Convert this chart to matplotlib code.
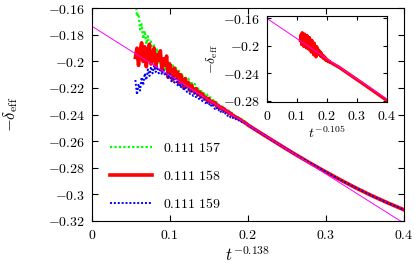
import numpy as np
import matplotlib.pyplot as plt
from matplotlib.ticker import FuncFormatter, MultipleLocator

plt.rcParams['mathtext.fontset'] = 'cm'
plt.rcParams['font.family'] = 'serif'
plt.rcParams['font.serif'] = ['DejaVu Serif']

# noisy early part, sampled every 0.002 in t^-0.138
x_noisy = list(np.round(np.linspace(0.056, 0.200, 73), 3))
green_noisy = [-0.152, -0.166, -0.164, -0.176, -0.172, -0.183, -0.177, -0.187, -0.181, -0.191,
               -0.185, -0.195, -0.188, -0.198, -0.191, -0.201, -0.194, -0.204, -0.197, -0.206,
               -0.199, -0.208, -0.201, -0.210, -0.203, -0.212, -0.205, -0.213, -0.207, -0.215,
               -0.209, -0.217, -0.211, -0.219, -0.213, -0.220, -0.215, -0.2220, -0.2170, -0.2235,
               -0.2190, -0.2250, -0.2210, -0.2265, -0.2230, -0.2280, -0.2250, -0.2295, -0.2270, -0.2310,
               -0.2290, -0.2325, -0.2305, -0.2340, -0.2325, -0.2355, -0.2340, -0.2370, -0.2358, -0.2385,
               -0.2372, -0.2400, -0.2388, -0.2413, -0.2403, -0.2428, -0.2420, -0.2440, -0.2434, -0.2455,
               -0.2450, -0.2468, -0.2476]
red_noisy = [-0.197, -0.190, -0.203, -0.192, -0.186, -0.200, -0.189, -0.204, -0.194, -0.187,
             -0.202, -0.196, -0.190, -0.205, -0.195, -0.199, -0.192, -0.207, -0.198, -0.203,
             -0.196, -0.212, -0.202, -0.207, -0.214, -0.205, -0.211, -0.208, -0.217, -0.210,
             -0.214, -0.219, -0.213, -0.219, -0.216, -0.222, -0.218, -0.221, -0.2235, -0.2205,
             -0.2250, -0.2230, -0.2265, -0.2245, -0.2275, -0.2270, -0.2295, -0.2280, -0.2305, -0.2300,
             -0.2320, -0.2310, -0.2335, -0.2330, -0.2350, -0.2345, -0.2365, -0.2358, -0.2378, -0.2375,
             -0.2392, -0.2390, -0.2405, -0.2408, -0.2420, -0.2423, -0.2433, -0.2436, -0.2447, -0.2452,
             -0.2461, -0.2467, -0.2478]
blue_noisy = [-0.214, -0.225, -0.217, -0.222, -0.212, -0.218, -0.209, -0.214, -0.206, -0.211,
              -0.204, -0.209, -0.203, -0.208, -0.204, -0.209, -0.205, -0.210, -0.206, -0.211,
              -0.208, -0.213, -0.209, -0.215, -0.211, -0.216, -0.213, -0.218, -0.215, -0.220,
              -0.217, -0.222, -0.219, -0.223, -0.221, -0.2245, -0.2225, -0.2260, -0.2240, -0.2275,
              -0.2255, -0.2290, -0.2270, -0.2300, -0.2285, -0.2315, -0.2300, -0.2330, -0.2315, -0.2345,
              -0.2330, -0.2358, -0.2345, -0.2372, -0.2360, -0.2385, -0.2375, -0.2398, -0.2390, -0.2410,
              -0.2403, -0.2422, -0.2416, -0.2433, -0.2428, -0.2444, -0.2440, -0.2455, -0.2452, -0.2465,
              -0.2463, -0.2474, -0.2478]

# smooth late part (all three coincide)
x_tail = [0.22, 0.24, 0.26, 0.28, 0.30, 0.32, 0.34, 0.36, 0.38, 0.40]
y_tail = [-0.2552, -0.2625, -0.2697, -0.2766, -0.2832, -0.2896, -0.2957, -0.3014, -0.3067, -0.3117]

fit_x = [0.0, 0.4]
fit_y = [-0.1734, -0.3218]

labels = ['0.111 157', '0.111 158', '0.111 159']

# inset
xi_noisy = list(np.round(np.linspace(0.112, 0.212, 51), 3))
yi_noisy = [-0.192, -0.184, -0.198, -0.181, -0.195, -0.186, -0.201, -0.183, -0.196, -0.188,
            -0.203, -0.185, -0.199, -0.191, -0.205, -0.188, -0.202, -0.194, -0.209, -0.192,
            -0.204, -0.197, -0.213, -0.196, -0.206, -0.201, -0.216, -0.201, -0.209, -0.205,
            -0.212, -0.207, -0.213, -0.209, -0.215, -0.211, -0.216, -0.214, -0.218, -0.215,
            -0.219, -0.217, -0.2205, -0.2190, -0.2215, -0.2205, -0.2225, -0.2218, -0.2233, -0.2230,
            -0.2240]
xi_tail = [0.24, 0.28, 0.32, 0.36, 0.40]
yi_tail = [-0.2310, -0.2430, -0.2550, -0.2672, -0.2795]
fiti_x = [0.0, 0.4]
fiti_y = [-0.160, -0.2776]


def fmt(v, pos):
    s = '%g' % round(v, 4)
    if s == '-0':
        s = '0'
    return '$' + s + '$'


def style(ax):
    ax.tick_params(direction='in', top=True, right=True, length=4, width=0.8,
                   labelsize=10, pad=5)
    for sp in ax.spines.values():
        sp.set_linewidth(0.8)
    ax.xaxis.set_major_formatter(FuncFormatter(fmt))
    ax.yaxis.set_major_formatter(FuncFormatter(fmt))


fig = plt.figure(figsize=(4.15, 2.68), dpi=100)
ax = fig.add_axes([0.221, 0.1765, 0.7518, 0.7925])

ax.plot(x_noisy + x_tail, green_noisy + y_tail, color='#00ff00', lw=1.6,
        ls=(0, (1, 1)), label=labels[0])
ax.plot(x_noisy + x_tail, red_noisy + y_tail, color='#ff0000', lw=2.6,
        label=labels[1])
ax.plot(x_noisy + x_tail, blue_noisy + y_tail, color='#0000ff', lw=1.4,
        ls=(0, (1, 1)), label=labels[2])
ax.plot(fit_x, fit_y, color='#ff00ff', lw=0.7)

ax.set_xlim(0, 0.4)
ax.set_ylim(-0.32, -0.16)
ax.xaxis.set_major_locator(MultipleLocator(0.1))
ax.yaxis.set_major_locator(MultipleLocator(0.02))
style(ax)
ax.set_xlabel(r'$t^{-0.138}$', fontsize=12, labelpad=3)
ax.set_ylabel(r'$-\delta_{\rm eff}$', fontsize=12, labelpad=20)

leg = ax.legend(loc='lower left', bbox_to_anchor=(0.02, -0.013), frameon=False,
                handlelength=3.0, handletextpad=0.75, labelspacing=1.0,
                prop={'size': 10, 'family': 'serif'})
for t in leg.get_texts():
    t.set_text('$' + t.get_text().replace(' ', r'\ ') + '$')

axi = fig.add_axes([0.6427, 0.6183, 0.2899, 0.322])
axi.plot(xi_noisy + xi_tail, yi_noisy + yi_tail, color='#ff0000', lw=2.4)
axi.plot(fiti_x, fiti_y, color='#ff00ff', lw=0.7)
axi.set_xlim(0, 0.4)
axi.set_ylim(-0.282, -0.1567)
axi.xaxis.set_major_locator(MultipleLocator(0.1))
axi.set_yticks([-0.16, -0.2, -0.24, -0.28])
style(axi)
axi.tick_params(length=3)
axi.set_xlabel(r'$t^{-0.105}$', fontsize=10, labelpad=1)
axi.set_ylabel(r'$-\delta_{\rm eff}$', fontsize=10, labelpad=2)

fig.savefig('out.png', dpi=100)
